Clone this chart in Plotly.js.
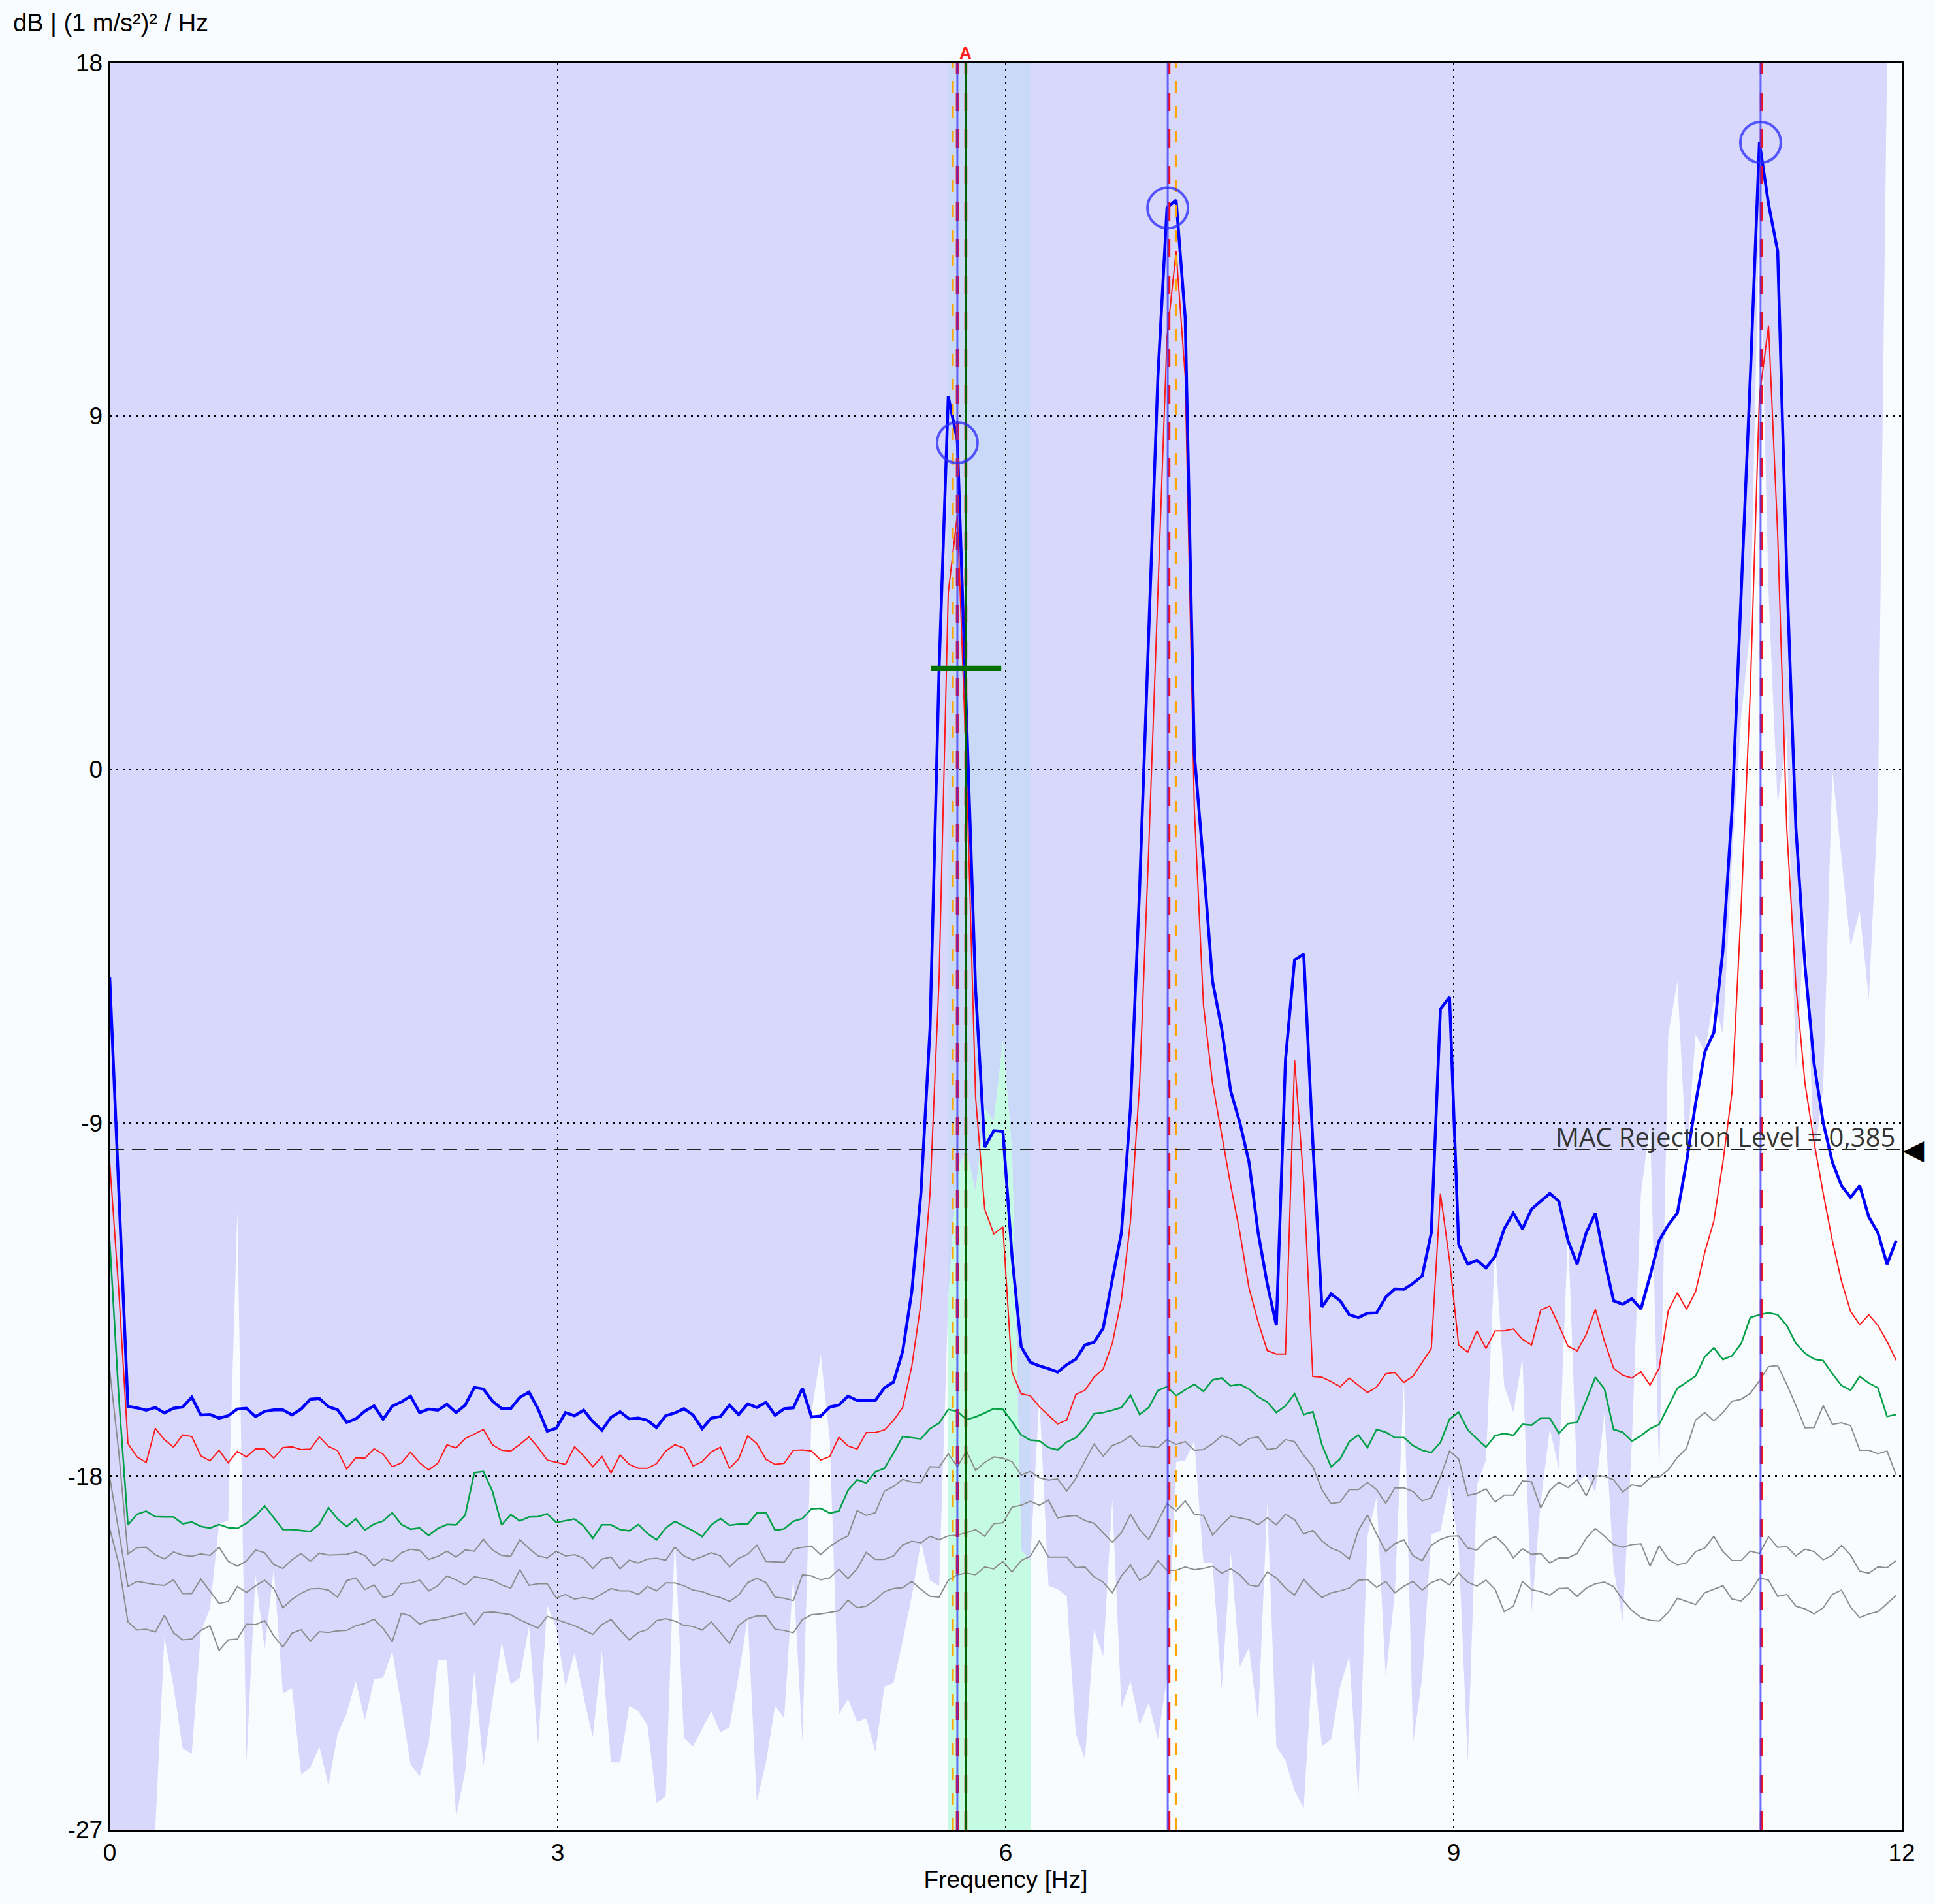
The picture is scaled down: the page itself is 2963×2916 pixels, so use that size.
<!DOCTYPE html>
<html>
<head>
<meta charset="utf-8">
<script src="https://cdn.plot.ly/plotly-3.0.1.min.js"></script>
<style>html,body{margin:0;padding:0;background:#f9fcff;}</style>
</head>
<body>
<div id="chart" style="width:2963px;height:2916px;"></div>
<script>
// ---------- data ----------
const DF = 0.061035;               // frequency resolution [Hz]
const X_RANGE = [0, 12];
const Y_RANGE = [-27, 18];
const X_TICKS = [0, 3, 6, 9, 12];
const Y_TICKS = [-27, -18, -9, 0, 9, 18];

const BLUE = [-5.3,-10.8,-16.22,-16.26,-16.32,-16.25,-16.39,-16.27,-16.24,-15.99,-16.44,-16.43,-16.52,-16.46,-16.29,-16.27,-16.48,-16.35,-16.31,-16.31,-16.44,-16.29,-16.04,-16.02,-16.23,-16.31,-16.63,-16.54,-16.34,-16.21,-16.55,-16.22,-16.11,-15.96,-16.38,-16.29,-16.32,-16.17,-16.38,-16.19,-15.74,-15.78,-16.09,-16.28,-16.28,-15.99,-15.86,-16.29,-16.85,
-16.78,-16.38,-16.46,-16.32,-16.61,-16.83,-16.50,-16.36,-16.54,-16.52,-16.58,-16.76,-16.46,-16.39,-16.28,-16.44,-16.79,-16.52,-16.48,-16.19,-16.43,-16.16,-16.25,-16.12,-16.45,-16.28,-16.26,-15.76,-16.49,-16.47,-16.24,-16.19,-15.96,-16.07,-16.07,-16.07,-15.75,-15.6,-14.82,-13.3,-10.8,-6.6,2.6,9.5,8.37,1.5,-5.6,-9.62,-9.2,-9.22,
-12.4,-14.7,-15.1,-15.19,-15.26,-15.35,-15.16,-15.02,-14.66,-14.59,-14.23,-13.0,-11.8,-8.6,-3.0,3.5,10.0,14.3,14.5,11.5,0.4,-2.4,-5.4,-6.6,-8.2,-9.0,-10.0,-11.8,-13.1,-14.16,-7.4,-4.85,-4.7,-9.5,-13.69,-13.36,-13.53,-13.89,-13.96,-13.85,-13.84,-13.44,-13.23,-13.24,-13.09,-12.9,-11.8,-6.1,-5.8,
-12.1,-12.6,-12.5,-12.7,-12.4,-11.7,-11.3,-11.7,-11.2,-11.0,-10.8,-11.0,-12.0,-12.6,-11.8,-11.3,-12.5,-13.53,-13.62,-13.48,-13.74,-12.9,-12.0,-11.6,-11.3,-10.0,-8.5,-7.2,-6.7,-4.6,-1.0,4.5,10.0,15.97,14.4,13.2,5.0,-1.5,-5.0,-7.5,-9.0,-10.0,-10.6,-10.9,-10.6,-11.4,-11.8,-12.6,-12.0];

const RED = [-10.0,-13.3,-17.17,-17.51,-17.65,-16.78,-17.07,-17.26,-16.95,-16.99,-17.48,-17.61,-17.34,-17.66,-17.37,-17.51,-17.30,-17.31,-17.54,-17.27,-17.25,-17.32,-17.31,-17.00,-17.24,-17.35,-17.82,-17.53,-17.54,-17.30,-17.44,-17.76,-17.66,-17.39,-17.66,-17.84,-17.67,-17.20,-17.28,-17.04,-16.93,-16.81,-17.20,-17.34,-17.36,-17.19,-17.00,-17.27,-17.59,
-17.64,-17.70,-17.25,-17.48,-17.76,-17.50,-17.92,-17.46,-17.70,-17.80,-17.80,-17.68,-17.36,-17.20,-17.28,-17.74,-17.63,-17.38,-17.26,-17.80,-17.56,-16.97,-17.17,-17.57,-17.70,-17.67,-17.34,-17.33,-17.36,-17.59,-17.50,-17.01,-17.23,-17.31,-16.89,-16.89,-16.82,-16.58,-16.25,-15.2,-13.6,-10.8,-5.3,4.5,6.5,0.0,-8.35,-11.2,-11.83,-11.65,
-15.35,-15.9,-15.95,-16.23,-16.45,-16.67,-16.57,-15.92,-15.81,-15.48,-15.27,-14.62,-13.5,-11.5,-8.0,-2.0,4.5,11.0,13.2,10.0,-1.0,-6.0,-8.0,-9.3,-10.6,-11.8,-13.21,-14.07,-14.80,-14.89,-14.89,-7.4,-10.5,-15.46,-15.48,-15.59,-15.72,-15.50,-15.68,-15.87,-15.73,-15.39,-15.36,-15.61,-15.45,-15.11,-14.75,-10.8,-12.5,
-14.66,-14.84,-14.30,-14.75,-14.30,-14.30,-14.25,-14.51,-14.66,-13.77,-13.67,-14.16,-14.69,-14.81,-14.39,-13.75,-14.57,-15.25,-15.43,-15.50,-15.34,-15.68,-15.25,-13.78,-13.33,-13.75,-13.30,-12.3,-11.5,-10.0,-8.2,-3.5,2.0,9.5,11.3,6.0,-1.5,-5.5,-8.0,-9.5,-10.8,-12.0,-13.03,-13.80,-14.14,-13.89,-14.16,-14.57,-15.05];

const GREEN = [-12.0,-16.0,-19.24,-18.97,-18.89,-19.03,-19.04,-19.04,-19.21,-19.17,-19.28,-19.32,-19.23,-19.31,-19.33,-19.20,-19.01,-18.76,-19.06,-19.36,-19.36,-19.38,-19.41,-19.22,-18.80,-19.09,-19.28,-19.09,-19.37,-19.22,-19.14,-18.93,-19.23,-19.35,-19.32,-19.51,-19.33,-19.23,-19.24,-18.99,-17.91,-17.88,-18.39,-19.24,-18.98,-19.14,-19.04,-19.03,-18.96,
-19.18,-19.13,-19.09,-19.27,-19.58,-19.24,-19.24,-19.36,-19.39,-19.23,-19.46,-19.62,-19.32,-19.15,-19.27,-19.39,-19.54,-19.24,-19.08,-19.25,-19.22,-19.22,-18.94,-18.93,-19.38,-19.34,-19.15,-19.08,-18.83,-18.82,-18.94,-18.89,-18.36,-18.09,-18.17,-17.89,-17.80,-17.41,-16.99,-17.02,-17.05,-16.79,-16.65,-16.30,-16.35,-16.56,-16.49,-16.39,-16.28,-16.30,
-16.61,-16.95,-17.08,-17.10,-17.27,-17.33,-17.13,-17.02,-16.77,-16.41,-16.38,-16.32,-16.25,-15.94,-16.43,-16.25,-15.82,-15.72,-15.95,-15.80,-15.66,-15.84,-15.55,-15.50,-15.70,-15.66,-15.78,-15.98,-16.11,-16.38,-16.21,-15.90,-16.43,-16.36,-17.20,-17.76,-17.56,-17.12,-16.95,-17.27,-16.81,-16.88,-17.02,-17.02,-17.22,-17.34,-17.40,-17.14,-16.55,
-16.37,-16.82,-17.05,-17.26,-16.97,-16.91,-16.96,-16.68,-16.70,-16.52,-16.52,-16.91,-16.66,-16.63,-16.07,-15.48,-15.78,-16.81,-16.88,-17.11,-16.97,-16.79,-16.68,-16.23,-15.76,-15.61,-15.45,-14.96,-14.73,-15.03,-14.93,-14.62,-13.96,-13.89,-13.84,-13.89,-14.16,-14.62,-14.87,-15.02,-15.06,-15.39,-15.69,-15.81,-15.46,-15.63,-15.75,-16.48,-16.43];

const GRAY1 = [-15.3,-17.4,-19.98,-19.82,-19.81,-20.00,-20.11,-19.93,-20.01,-20.04,-19.98,-20.02,-19.81,-20.17,-20.29,-20.16,-19.88,-19.95,-20.25,-20.35,-20.13,-19.97,-20.17,-19.96,-20.01,-20.00,-19.99,-19.93,-20.02,-20.29,-20.10,-20.17,-19.95,-19.86,-19.89,-20.12,-20.04,-19.91,-20.06,-19.88,-19.91,-19.61,-19.88,-20.02,-20.04,-19.62,-19.84,-20.03,-20.08,
-19.91,-20.03,-20.00,-20.09,-20.35,-20.11,-20.06,-20.36,-20.14,-20.21,-20.11,-20.09,-20.14,-19.81,-20.03,-20.13,-20.05,-19.95,-20.03,-20.31,-20.09,-19.99,-19.76,-20.17,-20.18,-20.19,-19.86,-19.81,-19.78,-20.00,-19.79,-19.64,-19.52,-18.88,-19.00,-18.93,-18.38,-18.26,-18.08,-18.15,-18.16,-17.76,-17.77,-17.43,-17.76,-17.36,-17.85,-17.65,-17.51,-17.54,
-17.63,-17.97,-17.88,-18.04,-18.10,-18.07,-18.38,-18.06,-17.61,-17.18,-17.49,-17.22,-17.13,-16.97,-17.23,-17.24,-17.27,-17.07,-17.19,-17.12,-17.34,-17.32,-17.17,-16.97,-17.04,-17.22,-17.04,-17.00,-17.32,-17.29,-17.07,-17.12,-17.47,-17.75,-18.34,-18.70,-18.66,-18.34,-18.34,-18.16,-18.34,-18.69,-18.30,-18.30,-18.39,-18.63,-18.55,-18.02,-17.36,
-17.56,-18.49,-18.44,-18.32,-18.66,-18.48,-18.48,-18.12,-18.14,-18.81,-18.36,-18.15,-18.29,-18.09,-18.50,-17.99,-18.00,-18.09,-18.40,-18.22,-18.26,-18.04,-18.02,-17.84,-17.52,-17.29,-16.57,-16.38,-16.59,-16.38,-16.09,-16.04,-15.89,-15.57,-15.21,-15.18,-15.66,-16.20,-16.77,-16.76,-16.20,-16.68,-16.64,-16.71,-17.34,-17.34,-17.43,-17.36,-17.97];

const GRAY2 = [-18.02,-19.42,-20.81,-20.68,-20.72,-20.76,-20.78,-20.64,-20.99,-20.99,-20.62,-20.94,-21.24,-21.19,-20.81,-20.96,-20.79,-20.65,-20.86,-21.35,-21.14,-20.98,-20.87,-20.86,-20.90,-21.08,-20.66,-20.59,-20.89,-20.77,-21.09,-21.03,-20.73,-20.72,-20.65,-20.92,-20.79,-20.54,-20.64,-20.77,-20.56,-20.60,-20.65,-20.77,-20.85,-20.38,-20.78,-20.74,-20.74,
-21.10,-21.01,-21.13,-21.09,-21.13,-20.99,-20.86,-20.92,-20.92,-21.01,-20.81,-20.92,-20.72,-20.72,-20.79,-20.90,-20.94,-21.03,-21.09,-21.19,-21.03,-20.71,-20.60,-20.71,-21.08,-21.11,-21.17,-20.51,-20.54,-20.64,-20.59,-20.37,-20.61,-20.36,-19.94,-20.12,-20.12,-20.03,-19.75,-19.66,-19.70,-19.53,-19.62,-19.52,-19.50,-19.44,-19.36,-19.53,-19.21,-19.19,
-18.79,-18.74,-18.64,-18.74,-18.61,-19.06,-19.02,-19.00,-19.13,-19.20,-19.44,-19.68,-19.44,-18.97,-19.36,-19.61,-19.15,-18.70,-18.88,-18.63,-18.97,-19.00,-19.50,-19.24,-19.02,-19.06,-19.11,-19.24,-19.06,-19.24,-18.97,-19.11,-19.47,-19.38,-19.65,-19.83,-19.92,-20.11,-19.38,-18.99,-19.47,-19.92,-19.72,-19.62,-20.03,-20.15,-19.76,-19.61,-19.53,
-19.52,-19.83,-19.88,-19.65,-19.53,-19.74,-20.08,-19.85,-19.99,-19.97,-20.21,-20.08,-20.08,-19.97,-19.58,-19.33,-19.53,-19.74,-19.81,-19.74,-19.72,-20.29,-19.77,-20.12,-20.26,-20.21,-19.92,-19.83,-19.53,-19.92,-20.15,-20.15,-19.91,-19.97,-19.54,-19.81,-19.79,-20.03,-19.86,-19.92,-20.13,-20.01,-19.76,-20.01,-20.42,-20.47,-20.31,-20.33,-20.15];

const GRAY3 = [-19.33,-20.24,-21.71,-21.92,-21.90,-21.97,-21.54,-21.99,-22.17,-22.15,-21.93,-21.81,-22.44,-22.17,-22.15,-21.77,-21.78,-21.68,-22.07,-22.35,-22.00,-21.91,-22.20,-21.96,-21.98,-21.94,-21.93,-21.81,-21.75,-21.64,-21.88,-22.21,-21.49,-21.56,-21.77,-21.68,-21.65,-21.60,-21.54,-21.48,-21.78,-21.48,-21.46,-21.49,-21.53,-21.66,-21.77,-21.87,-21.57,
-21.65,-21.74,-21.81,-21.92,-22.03,-21.78,-21.65,-21.92,-22.17,-21.98,-21.91,-21.68,-21.63,-21.69,-21.80,-21.83,-21.92,-21.71,-21.99,-22.26,-21.80,-21.63,-21.56,-21.56,-21.90,-21.93,-21.99,-21.65,-21.53,-21.51,-21.47,-21.43,-21.16,-21.35,-21.31,-21.15,-20.94,-20.86,-20.84,-20.68,-20.88,-21.06,-21.08,-20.65,-20.51,-20.47,-20.51,-20.31,-20.36,-20.17,
-20.44,-20.15,-20.04,-19.65,-20.06,-20.06,-20.06,-20.33,-20.31,-20.56,-20.70,-20.97,-20.54,-20.26,-20.65,-20.51,-20.15,-20.40,-20.40,-20.31,-20.38,-20.35,-20.29,-20.47,-20.36,-20.51,-20.77,-20.81,-20.44,-20.59,-20.85,-21.03,-20.63,-20.88,-21.09,-20.97,-20.92,-20.85,-20.65,-20.63,-20.83,-20.68,-20.97,-20.80,-20.68,-20.90,-20.71,-20.62,-20.77,
-20.47,-20.70,-20.80,-20.65,-20.88,-21.45,-21.31,-20.68,-20.89,-20.94,-21.03,-20.86,-20.85,-21.06,-20.85,-20.74,-20.70,-20.81,-21.15,-21.42,-21.60,-21.67,-21.69,-21.47,-21.11,-21.19,-21.27,-20.97,-20.88,-20.79,-21.13,-21.18,-20.95,-20.59,-20.65,-21.06,-21.01,-21.31,-21.38,-21.51,-21.35,-21.01,-20.90,-21.33,-21.60,-21.51,-21.45,-21.24,-21.04];

// MAC values (0..1, drawn against the right-hand 0..1 scale)
const MAC = [0,0,0,0,0,0,0.109,0.081,0.046,0.043,0.112,0.125,0.173,0.175,0.35,0.038,0.144,0.102,0.148,0.077,0.080,0.031,0.035,0.047,0.025,0.054,0.066,0.084,0.062,0.085,0.086,0.101,0.070,0.037,0.030,0.049,0.096,0.096,0.007,0.033,0.090,0.036,0.073,0.106,0.082,0.086,0.115,0.048,0.127,
0.114,0.081,0.100,0.075,0.052,0.101,0.038,0.038,0.070,0.067,0.059,0.015,0.019,0.166,0.052,0.047,0.057,0.067,0.055,0.058,0.087,0.120,0.016,0.038,0.070,0.063,0.144,0.050,0.236,0.269,0.221,0.065,0.074,0.061,0.063,0.044,0.081,0.083,0.107,0.132,0.163,0.141,0.138,0.30,0.374,0.384,0.361,0.408,0.401,0.446,
0.384,0.158,0.152,0.245,0.138,0.136,0.132,0.054,0.040,0.113,0.098,0.187,0.069,0.084,0.059,0.072,0.051,0.086,0.208,0.209,0.220,0.151,0.151,0.079,0.157,0.092,0.103,0.061,0.185,0.047,0.039,0.022,0.012,0.098,0.047,0.051,0.081,0.098,0.018,0.166,0.188,0.086,0.134,0.254,0.049,0.086,0.167,0.169,0.195,
0.16,0.038,0.195,0.209,0.33,0.251,0.236,0.267,0.123,0.185,0.227,0.204,0.34,0.196,0.201,0.191,0.236,0.148,0.118,0.219,0.36,0.40,0.20,0.45,0.48,0.38,0.45,0.44,0.47,0.45,0.55,0.63,0.68,0.92,0.70,0.58,0.62,0.43,0.52,0.38,0.42,0.60,0.55,0.50,0.52,0.47,0.58,1.0,1.0];

const MAC_LEVEL = 0.385;
const MAC_LABEL = 'MAC Rejection Level = 0,385';
const BAND = [5.615, 6.166];            // selected band (blue / green)
const PEAK_F = [5.676, 7.085, 11.055];  // picked peaks (circles, blue lines)
const PEAK_DB = [8.32, 14.3, 15.97];
const RED_LINES = [5.676, 5.733, 7.093, 11.06];
const ORANGE_LINES = [5.645, 7.14];
const CURSOR_A = 5.733;
const DAMP_X = [5.50, 5.97];
const DAMP_DB = [2.57, 2.57];

const FREQ = BLUE.map((_, i) => +(i * DF).toFixed(5));
// the MAC area is held at its last value up to the right edge of the axis
const MAC_X = FREQ.concat([X_RANGE[1]]);
const MAC_Y = MAC.concat([MAC[MAC.length - 1]]);

// ---------- styles ----------
const PAPER = '#f9fcff';
const LAVENDER = '#d7d8fc';
const BAND_BLUE = '#cbd9f8';
const MINT = '#c6fbe3';
const FONT = 'Liberation Sans, Arial, sans-serif';

const traces = [];
// subplot A : MAC fill (white below curve)
traces.push({x: MAC_X, y: MAC_Y, xaxis: 'x', yaxis: 'y', type: 'scatter', mode: 'lines',
  fill: 'tozeroy', fillcolor: PAPER, line: {width: 0, color: PAPER}, hoverinfo: 'skip'});
// subplot B : MAC fill clipped to the band (mint)
traces.push({x: MAC_X, y: MAC_Y, xaxis: 'x2', yaxis: 'y2', type: 'scatter', mode: 'lines',
  fill: 'tozeroy', fillcolor: MINT, line: {width: 0, color: MINT}, hoverinfo: 'skip'});

// subplot C : spectra
const line = (y, color, width) => ({x: FREQ, y: y, xaxis: 'x3', yaxis: 'y3', type: 'scatter',
  mode: 'lines', line: {color: color, width: width}, hoverinfo: 'skip'});
traces.push(line(GRAY3, '#8c8c8c', 2));
traces.push(line(GRAY2, '#8c8c8c', 2));
traces.push(line(GRAY1, '#8c8c8c', 2));
traces.push(line(GREEN, '#00a046', 2.5));
traces.push(line(RED, '#ff1a1a', 2));
traces.push(line(BLUE, '#0000ff', 4.5));

const vline = (f, color, width, dash) => ({x: [f, f], y: Y_RANGE, xaxis: 'x3', yaxis: 'y3',
  type: 'scatter', mode: 'lines', line: {color: color, width: width, dash: dash}, hoverinfo: 'skip'});
ORANGE_LINES.forEach(f => traces.push(vline(f, '#ffa500', 3.5, '18px,20px')));
RED_LINES.forEach(f => traces.push(vline(f, '#ff1010', 4.5, '28px,28px')));
PEAK_F.forEach(f => traces.push(vline(f, 'rgba(50,50,255,0.7)', 3, 'solid')));
traces.push(vline(CURSOR_A, '#006400', 2.5, 'solid'));

traces.push({x: DAMP_X, y: DAMP_DB, xaxis: 'x3', yaxis: 'y3', type: 'scatter', mode: 'lines',
  line: {color: '#006e00', width: 8}, hoverinfo: 'skip'});
traces.push({x: PEAK_F, y: PEAK_DB, xaxis: 'x3', yaxis: 'y3', type: 'scatter', mode: 'markers',
  marker: {symbol: 'circle-open', size: 62, color: 'rgba(40,40,255,0.75)', line: {width: 4, color: 'rgba(40,40,255,0.75)'}},
  hoverinfo: 'skip'});

const xDom = [(BAND[0] - X_RANGE[0]) / (X_RANGE[1] - X_RANGE[0]), (BAND[1] - X_RANGE[0]) / (X_RANGE[1] - X_RANGE[0])];
const hidden = {visible: false, fixedrange: true, zeroline: false, showgrid: false};

const layout = {
  width: 2963, height: 2916,
  margin: {l: 168, r: 51, t: 96, b: 114, pad: 0},
  paper_bgcolor: PAPER, plot_bgcolor: 'rgba(0,0,0,0)',
  showlegend: false,
  font: {family: FONT, size: 36, color: '#000'},
  xaxis: Object.assign({}, hidden, {range: X_RANGE, domain: [0, 1], anchor: 'y'}),
  yaxis: Object.assign({}, hidden, {range: [0, 1], domain: [0, 1], anchor: 'x'}),
  xaxis2: Object.assign({}, hidden, {range: BAND, domain: xDom, anchor: 'y2'}),
  yaxis2: Object.assign({}, hidden, {range: [0, 1], domain: [0, 1], anchor: 'x2'}),
  xaxis3: {range: X_RANGE, domain: [0, 1], anchor: 'y3', tickvals: X_TICKS, ticktext: X_TICKS.map(String),
    showgrid: true, gridcolor: '#000', gridwidth: 2.8, griddash: '3px,7px', zeroline: false,
    showline: true, linecolor: '#000', linewidth: 3.5, mirror: true,
    ticks: '',
    tickfont: {family: FONT, size: 37, color: '#000'},
    title: {text: 'Frequency [Hz]', font: {family: FONT, size: 37, color: '#000'}, standoff: 0}},
  yaxis3: {range: Y_RANGE, domain: [0, 1], anchor: 'x3', tickvals: Y_TICKS, ticktext: Y_TICKS.map(String),
    showgrid: true, gridcolor: '#000', gridwidth: 2.8, griddash: '3px,7px', zeroline: false,
    showline: true, linecolor: '#000', linewidth: 3.5, mirror: true,
    ticks: '',
    tickfont: {family: FONT, size: 37, color: '#000'}},
  shapes: [
    {type: 'rect', xref: 'paper', yref: 'paper', x0: 0, x1: 1, y0: 0, y1: 1,
      fillcolor: LAVENDER, line: {width: 0}, layer: 'below'},
    {type: 'rect', xref: 'x', yref: 'paper', x0: BAND[0], x1: BAND[1], y0: 0, y1: 1,
      fillcolor: BAND_BLUE, line: {width: 0}, layer: 'below'},
    {type: 'line', xref: 'paper', yref: 'y', x0: 0, x1: 1, y0: MAC_LEVEL, y1: MAC_LEVEL,
      line: {color: '#222', width: 2.5, dash: '22px,12px'}, layer: 'above'}
  ],
  annotations: [
    {xref: 'paper', yref: 'paper', x: 0, y: 1, xanchor: 'left', yanchor: 'bottom', xshift: -150, yshift: 38,
      text: 'dB | (1 m/s²)² / Hz', showarrow: false, font: {family: FONT, size: 38, color: '#000'}},
    {xref: 'x3', yref: 'paper', x: CURSOR_A, y: 1, xanchor: 'center', yanchor: 'bottom', yshift: -2,
      text: '<b>A</b>', showarrow: false, font: {family: FONT, size: 26, color: '#ff2020'}},
    {xref: 'paper', yref: 'y', x: 1, y: MAC_LEVEL, xanchor: 'right', yanchor: 'bottom', xshift: -8, yshift: -10,
      text: MAC_LABEL, showarrow: false, font: {family: 'Open Sans, Noto Sans, sans-serif', size: 40, color: '#333'}},
    {xref: 'paper', yref: 'y', x: 1, y: MAC_LEVEL, xanchor: 'left', yanchor: 'middle', xshift: 0,
      text: '◀', showarrow: false, font: {family: 'DejaVu Sans, sans-serif', size: 42, color: '#000'}}
  ]
};

Plotly.newPlot('chart', traces, layout, {staticPlot: true, displayModeBar: false});
</script>
</body>
</html>
